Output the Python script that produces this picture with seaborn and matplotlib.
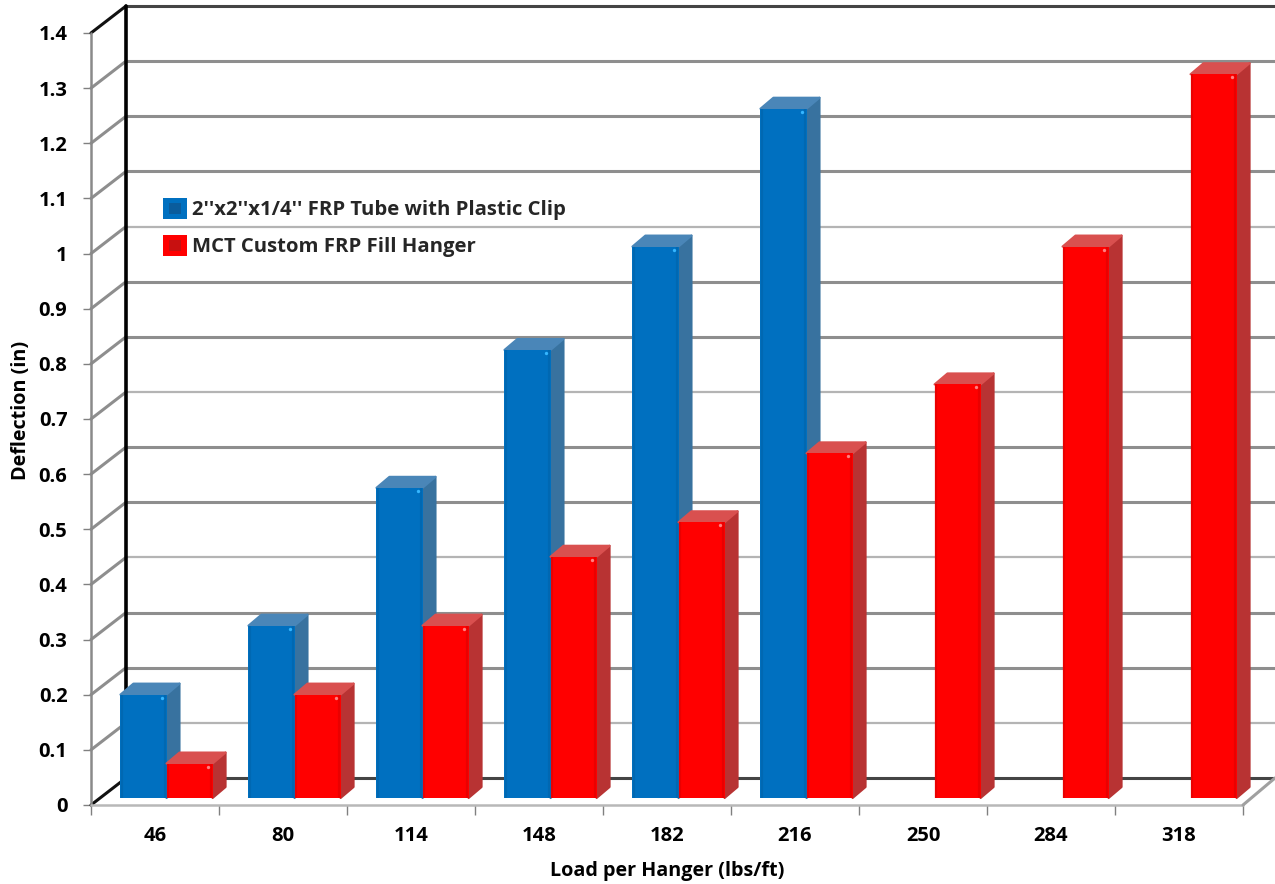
import matplotlib
matplotlib.use("Agg")
import matplotlib.pyplot as plt
from matplotlib.legend_handler import HandlerPatch
from matplotlib.patches import Polygon, Rectangle
import numpy as np
import pandas as pd
import seaborn as sns

loads = ["46", "80", "114", "148", "182", "216", "250", "284", "318"]
tube_values = [0.1875, 0.3125, 0.5625, 0.8125, 1.0, 1.25]
hanger_values = [0.0625, 0.1875, 0.3125, 0.4375, 0.5, 0.625, 0.75, 1.0, 1.3125]
y_ticks = [0, 0.1, 0.2, 0.3, 0.4, 0.5, 0.6, 0.7, 0.8, 0.9, 1, 1.1, 1.2, 1.3, 1.4]

tube_name = "2''x2''x1/4'' FRP Tube with Plastic Clip"
hanger_name = "MCT Custom FRP Fill Hanger"

BLUE, BLUE_SIDE, BLUE_TOP, BLUE_EDGE = "#0070C0", "#38729F", "#4A86B8", "#0068B2"
RED, RED_SIDE, RED_TOP, RED_EDGE = "#FF0000", "#B83333", "#D9504F", "#EA0000"

# axes size in pixels, used to turn pixel offsets of the fake 3D into data units
AX_W, AX_H = 1152, 772
PX_X = 9 / AX_W
PX_Y = 1.4 / AX_H


class BevelHandler(HandlerPatch):
    """Legend key: square with a darker square inside."""

    def create_artists(self, legend, orig_handle, xdescent, ydescent, width, height, fontsize, trans):
        outer = Rectangle((-xdescent, -ydescent), width, height, facecolor=orig_handle.get_facecolor(),
                          edgecolor="none", transform=trans)
        inner = Rectangle((-xdescent + width * 0.25, -ydescent + height * 0.25), width * 0.5, height * 0.5,
                          facecolor=orig_handle.get_edgecolor(), edgecolor="none", transform=trans)
        return [outer, inner]


df = pd.DataFrame({
    "load": loads[:len(tube_values)] + loads,
    "deflection": tube_values + hanger_values,
    "series": [tube_name] * len(tube_values) + [hanger_name] * len(hanger_values),
})

sns.set_theme(style="white")
plt.rcParams["font.family"] = ["Open Sans", "DejaVu Sans"]

fig = plt.figure(figsize=(12.75, 8.84), dpi=100)
ax = fig.add_axes([91 / 1275, (884 - 805) / 884, AX_W / 1275, AX_H / 884])

sns.barplot(data=df, x="load", y="deflection", hue="series", order=loads,
            hue_order=[tube_name, hanger_name], palette=[BLUE, RED], width=0.72, saturation=1,
            errorbar=None, legend=False, linewidth=0, ax=ax)
ax.set_xlim(-0.5, 8.5)
ax.set_ylim(0, 1.4)

# back wall and floor
back_x = 35 * PX_X
back_y = 27 * PX_Y
right_end = 8.5 + 32 * PX_X
for i, val in enumerate(y_ticks):
    edge = i == 0 or i == len(y_ticks) - 1
    light = i % 3 == 1 and i < 13
    grid_col = "#B4B4B4" if light else "#8E8E8E"
    ax.plot([-0.5 + back_x, right_end], [val + back_y] * 2, color="#444444" if edge else grid_col,
            lw=1.6 if light else 2.2, clip_on=False, zorder=1, solid_capstyle="butt")
    ax.plot([-0.5, -0.5 + back_x], [val, val + back_y], color="#111111" if edge else "#8E8E8E",
            lw=2.2, clip_on=False, zorder=1)
ax.plot([-0.5 + back_x] * 2, [back_y, 1.4 + back_y], color="black", lw=2.6, clip_on=False, zorder=2)
ax.plot([-0.5, -0.5], [0, 1.4], color="#8A8A8A", lw=1.8, clip_on=False, zorder=2)
ax.plot([-0.5, 8.5], [0, 0], color="#B8B8B8", lw=1.8, clip_on=False, zorder=2)
ax.plot([8.5, right_end], [0, back_y], color="#A0A0A0", lw=2.2, clip_on=False, zorder=2)

# shift the bars off the front plane and add the side and top faces
shift_x = 11.5 * PX_X
shift_y = 7 * PX_Y
depth_x = 13 * PX_X
depth_y = 11 * PX_Y
styles = [(BLUE_SIDE, BLUE_TOP, BLUE_EDGE, "#35B6FF", 3), (RED_SIDE, RED_TOP, RED_EDGE, "#FF8080", 9)]
for bars, (side_col, top_col, edge_col, dot_col, z) in zip(ax.containers, styles):
    for bar in bars:
        if not np.isfinite(bar.get_height()) or bar.get_height() == 0:
            continue
        bar.set_x(bar.get_x() + shift_x)
        bar.set_y(shift_y)
        bar.set_zorder(z + 2)
        bar.set_clip_on(False)
        bar.set_edgecolor("none")
        x0, x1 = bar.get_x(), bar.get_x() + bar.get_width()
        y0, y1 = shift_y, shift_y + bar.get_height()
        side = Polygon([(x1, y0), (x1 + depth_x, y0 + depth_y), (x1 + depth_x, y1 + depth_y), (x1, y1)],
                       closed=True, facecolor=side_col, edgecolor=side_col, lw=1.5,
                       joinstyle="round", clip_on=False, zorder=z)
        top = Polygon([(x0, y1), (x0 + depth_x, y1 + depth_y), (x1 + depth_x, y1 + depth_y), (x1, y1)],
                      closed=True, facecolor=top_col, edgecolor=top_col, lw=1.5,
                      joinstyle="round", clip_on=False, zorder=z + 1)
        ax.add_patch(side)
        ax.add_patch(top)
        for xe in (x0 + 1.2 * PX_X, x1 - 1.2 * PX_X):
            ax.plot([xe, xe], [y0, y1], color=edge_col, lw=1.6, clip_on=False, zorder=z + 3,
                    solid_capstyle="butt")
        ax.plot([x1 - 5 * PX_X], [y1 - 3 * PX_Y], "o", ms=2.4, color=dot_col, mew=0, clip_on=False,
                zorder=z + 4)

# axes text
ax.set_yticks(y_ticks)
ax.set_yticklabels([f"{v:g}" for v in y_ticks], fontsize=14.5, fontweight="bold", color="black")
ax.set_xticks(np.arange(-0.5, 9), minor=True)
ax.tick_params(axis="x", which="major", length=0, pad=15, labelsize=14.5, labelcolor="black")
ax.tick_params(axis="x", which="minor", length=7, width=1, color="#808080", bottom=True)
ax.tick_params(axis="y", which="major", length=6, width=1, color="#808080", left=True, pad=11)
for label in ax.get_xticklabels():
    label.set_fontweight("bold")

ax.set_xlabel("Load per Hanger (lbs/ft)", fontsize=14.2, fontweight="bold", color="black")
ax.set_ylabel("Deflection (in)", fontsize=14.2, fontweight="bold", color="black")
ax.xaxis.set_label_coords(0.5, -(861 - 805) / AX_H)
ax.yaxis.set_label_coords((31 - 91) / AX_W, (805 - 410) / AX_H)
sns.despine(ax=ax, left=True, bottom=True)

keys = [Rectangle((0, 0), 1, 1, facecolor=BLUE, edgecolor="#0A5C9C"),
        Rectangle((0, 0), 1, 1, facecolor=RED, edgecolor="#C81010")]
leg = ax.legend(keys, [tube_name, hanger_name], handler_map={Rectangle: BevelHandler()},
                loc="upper left", bbox_to_anchor=((163 - 91) / AX_W, (805 - 198) / AX_H),
                frameon=False, prop={"size": 14.6, "weight": "bold"}, handlelength=1.2, handleheight=1.2,
                labelspacing=0.74, handletextpad=0.25, borderpad=0, borderaxespad=0)
leg.set_zorder(20)

fig.savefig("out.png", dpi=100, facecolor="white")
